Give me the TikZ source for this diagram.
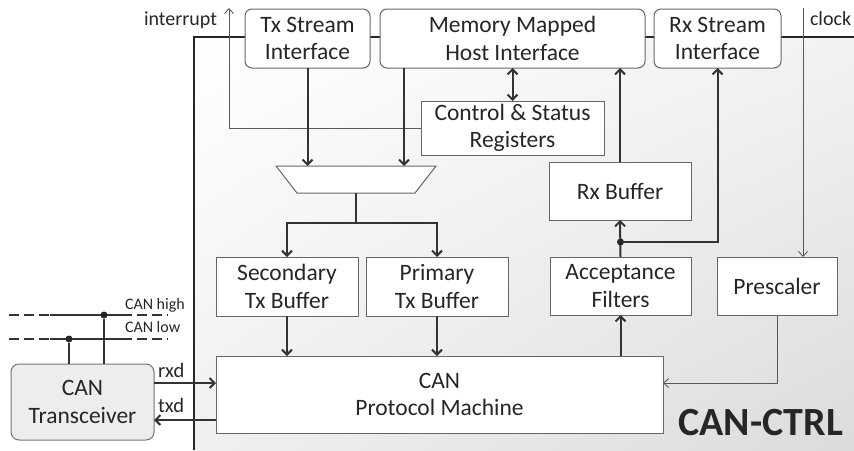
\documentclass[tikz,border=0pt]{standalone}
\usepackage{fontspec}
\setmainfont{Carlito}
\usetikzlibrary{arrows.meta,calc,shadings}
\begin{document}
\begin{tikzpicture}[x=1pt,y=-1pt,
  every node/.style={inner sep=0pt, outer sep=0pt},
  boxtxt/.style={font=\fontsize{23.5}{27.5}\selectfont, text=black!85, align=center},
  sbox/.style={boxtxt, draw=black!60, line width=1pt, fill=white, rectangle},
  rbox/.style={sbox, rounded corners=7pt},
  arr/.style={draw=black!80, line width=2pt, -{Straight Barb[length=5pt,width=10pt]}},
  darr/.style={draw=black!80, line width=2pt, {Straight Barb[length=5pt,width=10pt]}-{Straight Barb[length=5pt,width=10pt]}},
  tarr/.style={draw=black!65, line width=0.9pt, -{Straight Barb[length=5pt,width=9pt]}},
  bus/.style={draw=black!80, line width=1.3pt},
  busdash/.style={bus, dash pattern=on 10pt off 5pt},
  dotnode/.style={circle, fill=black!85, minimum size=7pt},
  lbl/.style={text=black!85}
]
\useasboundingbox (0,0) rectangle (854,450);
% CAN-CTRL region
\shade[upper left=white, upper right=black!5, lower left=black!6, lower right=black!14] (194,37) rectangle (854,450);
\draw[black!85, line width=1.2pt] (194,450) -- (194,37) -- (854,37);

% nodes
\node[rbox, minimum width=125pt, minimum height=59pt] (tx) at (307.5,38.5) {Tx Stream\\Interface};
\node[rbox, minimum width=265pt, minimum height=59pt] (mm) at (512.5,38.5) {Memory Mapped\\Host Interface};
\node[rbox, minimum width=127pt, minimum height=59pt] (rx) at (717.5,38.5) {Rx Stream\\Interface};
\node[sbox, minimum width=183pt, minimum height=54pt] (csr) at (512.5,128) {Control \& Status\\Registers};
\node[sbox, minimum width=142pt, minimum height=58pt] (rxb) at (620,191) {Rx Buffer};
\node[sbox, minimum width=142pt, minimum height=59pt] (sec) at (287,286.5) {Secondary\\Tx Buffer};
\node[sbox, minimum width=142pt, minimum height=59pt] (pri) at (437,286.5) {Primary\\Tx Buffer};
\node[sbox, minimum width=141pt, minimum height=58pt] (acc) at (620.5,286) {Acceptance\\Filters};
\node[sbox, minimum width=120pt, minimum height=58pt] (pre) at (777,286) {Prescaler};
\node[sbox, minimum width=447pt, minimum height=77pt] (cpm) at (439.5,394.5) {CAN\\Protocol Machine};
\node[rbox, fill=black!7, draw=black!55, rounded corners=8pt, minimum width=143pt, minimum height=76pt] (tr) at (82.5,402) {CAN\\Transceiver};
\node[minimum width=160pt, minimum height=27pt] (mux) at (356,179.5) {};
\draw[draw=black!60, fill=white, line width=1pt] (mux.north west) -- (mux.north east) -- ([xshift=-21pt]mux.south east) -- ([xshift=21pt]mux.south west) -- cycle;

% labels
\node[lbl, font=\fontsize{20}{24}\selectfont, anchor=base east] (intl) at (217,25) {interrupt};
\node[lbl, font=\fontsize{20}{24}\selectfont, anchor=base west] (clkl) at (810,25) {clock};
\node[lbl, font=\fontsize{20.5}{24}\selectfont, anchor=base west] (rxdl) at (158,377) {rxd};
\node[lbl, font=\fontsize{20.5}{24}\selectfont, anchor=base west] (txdl) at (158,412) {txd};
\node[lbl, font=\fontsize{16}{19}\selectfont, anchor=base west] (hil) at (125,309) {CAN high};
\node[lbl, font=\fontsize{16}{19}\selectfont, anchor=base west] (lol) at (125,332) {CAN low};
\node[lbl, font=\bfseries\fontsize{40}{48}\selectfont, anchor=base east] (title) at (843,435) {CAN-CTRL};

% thin connectors
\coordinate (intt) at (229,8);
\draw[tarr] (csr.west) -| (intt);
\coordinate (clk) at (803,8);
\draw[tarr] (clk) -- (clk |- pre.north);
\draw[tarr] (pre.south) |- ([yshift=11.5pt]cpm.east);

% thick connectors
\draw[arr] (tx.south) -- (tx.south |- mux.north);
\draw[arr] ([xshift=24pt]mm.south west) -- ([xshift=24pt]mm.south west |- mux.north);
\draw[darr] (csr.north) -- (csr.north |- mm.south);
\draw[arr] (mux.south) -- ++(0,30) coordinate (split) -| (sec.north);
\draw[arr] (split) -| (pri.north);
\draw[arr] (sec.south) -- (sec.south |- cpm.north);
\draw[arr] (pri.south) -- (pri.south |- cpm.north);
\draw[arr] (acc.south |- cpm.north) -- (acc.south);
\draw[arr] (acc.north) -- (rxb.south);
\node[dotnode] (rdot) at ($(acc.north)+(0,-15)$) {};
\draw[arr] (rdot) -| (rx.south);
\draw[arr] (rxb.north) -- (rxb.north |- mm.south);
\draw[arr] ([yshift=19pt]tr.east) -- ([yshift=19pt]tr.east -| cpm.west);
\draw[arr] ([yshift=-18pt]tr.east -| cpm.west) -- ([yshift=-18pt]tr.east);

% CAN bus
\coordinate (hA) at (9,315); \coordinate (hB) at (50,315);
\coordinate (hC) at (122,315); \coordinate (hD) at (168,315);
\coordinate (lA) at (9,339); \coordinate (lB) at (50,339);
\coordinate (lC) at (122,339); \coordinate (lD) at (168,339);
\draw[busdash] (hA) -- (hB); \draw[bus] (hB) -- (hC); \draw[busdash] (hC) -- (hD);
\draw[busdash] (lA) -- (lB); \draw[bus] (lB) -- (lC); \draw[busdash] (lC) -- (lD);
\node[dotnode] (dh) at (104,315) {};
\node[dotnode] (dl) at (69,339) {};
\draw[bus] (dh) -- (dh |- tr.north);
\draw[bus] (dl) -- (dl |- tr.north);
\end{tikzpicture}
\end{document}
